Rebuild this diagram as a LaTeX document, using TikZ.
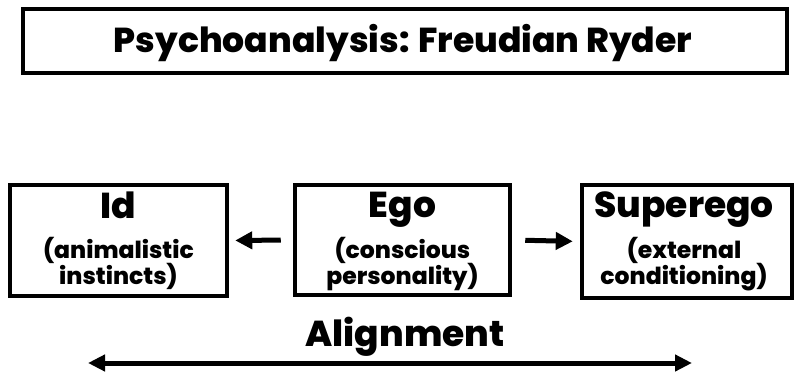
\documentclass[tikz,border=0pt]{standalone}
\usepackage{fontspec}
\setmainfont{Poppins}[BoldFont={* ExtraBold}]
\usetikzlibrary{arrows.meta}
\tikzset{
  box/.style={draw=black, line width=4.5pt, fill=white, inner sep=0pt},
  ttl/.style={font=\fontsize{34.6}{36}\selectfont\bfseries, anchor=base},
  head/.style={font=\fontsize{36}{38}\selectfont\bfseries, anchor=base},
  sub/.style={font=\fontsize{23.5}{26}\selectfont\bfseries, anchor=base},
  tip/.style={Triangle[length=17pt,width=17pt]},
  arr/.style={line width=5pt, -{Triangle[length=17pt,width=17pt]}},
  darr/.style={line width=5pt, {Triangle[length=17pt,width=16pt]}-{Triangle[length=17pt,width=16pt]}},
}
\begin{document}
\begin{tikzpicture}[x=1pt,y=-1pt]
\useasboundingbox (0,0) rectangle (795,375);
% title
\node[box, minimum width=764pt, minimum height=64pt] (title) at (405,41) {};
\node[ttl] (titletext) at (403,52) {Psychoanalysis: Freudian Ryder};
% boxes
\node[box, minimum width=217pt, minimum height=111pt] (id) at (118.5,240.5) {};
\node[box, minimum width=215pt, minimum height=110pt] (ego) at (402.5,240) {};
\node[box, minimum width=210pt, minimum height=113pt] (super) at (687,241.5) {};
% texts
\node[head] (idh) at (118.5,218) {Id};
\node[sub] (ids1) at (118.5,258) {(animalistic};
\node[sub] (ids2) at (118.5,284) {instincts)};
\node[head] (egoh) at (402.5,217) {Ego};
\node[sub] (egos1) at (402.5,258) {(conscious};
\node[sub] (egos2) at (402.5,284) {personality)};
\node[head] (superh) at (684,217) {Superego};
\node[sub] (supers1) at (684,258) {(external};
\node[sub] (supers2) at (684,284) {conditioning)};
% arrows
\draw[arr, shorten <=12pt, shorten >=6pt] (ego.west) -- (id.east);
\draw[arr, shorten <=13pt, shorten >=7pt] (ego.east) -- (super.west);
% alignment
\node[head] (align) at (405,346) {Alignment};
\coordinate (al) at (88,363);
\coordinate (ar) at (692,363);
\draw[darr] (al) -- (ar);
\end{tikzpicture}
\end{document}
